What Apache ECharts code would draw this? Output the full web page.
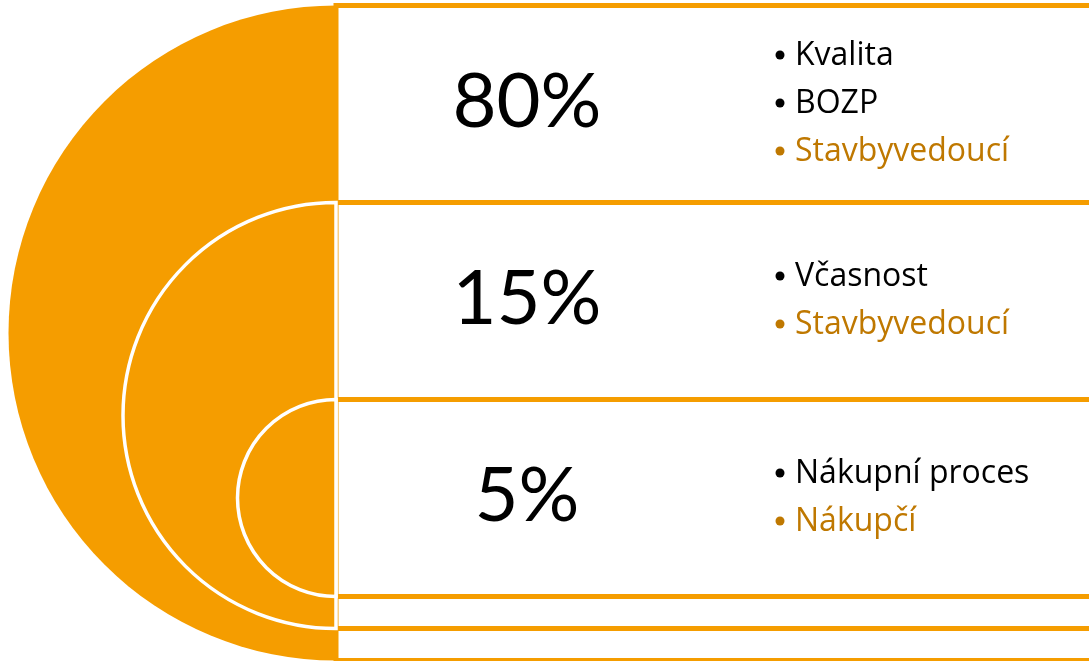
<!DOCTYPE html>
<html>
<head>
<meta charset="utf-8">
<script src="https://cdn.jsdelivr.net/npm/echarts@6/dist/echarts.min.js"></script>
<style>
html,body{margin:0;padding:0;background:#fff;}
#c{width:1089px;height:661px;}
</style>
</head>
<body>
<div id="c"></div>
<script>
// ---- data ----
const percents = ['80%', '15%', '5%'];
const criteria = [['Kvalita', 'BOZP'], ['Včasnost'], ['Nákupní proces']];
const owners = ['Stavbyvedoucí', 'Stavbyvedoucí', 'Nákupčí'];

// ---- layout / style constants ----
const ORANGE = '#F59D00';
const OWNER_COLOR = '#BF7800';
const PCT_FONT = 'Lato, "Open Sans", sans-serif';
const LIST_FONT = '"Open Sans", Lato, sans-serif';
const TOP = 5.5, MAIN_H = 197, TAIL_H = 32, SPLIT_X = 336, RIGHT_X = 1100;
const PCT_X = 527, BULLET_X = 780, TEXT_X = 795, LINE_H = 48;

const n = percents.length;
const rowHeights = [];
for (let i = 0; i < n; i++) rowHeights.push(MAIN_H);
for (let i = 0; i < n - 1; i++) rowHeights.push(TAIL_H);
const rowTops = [];
let acc = TOP;
rowHeights.forEach(h => { rowTops.push(acc); acc += h; });

const rowData = rowHeights.map((h, i) => [i]);
const arcData = percents.map((p, i) => [i]);

const chart = echarts.init(document.getElementById('c'), null, {renderer: 'canvas'});

function renderRow(params, api) {
  const i = api.value(0);
  const p0 = api.coord([SPLIT_X, rowTops[i]]);
  const p1 = api.coord([RIGHT_X, rowTops[i] + rowHeights[i]]);
  const children = [{
    type: 'rect',
    shape: {x: p0[0], y: p0[1], width: p1[0] - p0[0], height: p1[1] - p0[1]},
    style: {fill: '#fff', stroke: ORANGE, lineWidth: 5}
  }];
  if (i < n) {
    const cy = rowTops[i] + rowHeights[i] / 2;
    const pc = api.coord([PCT_X, cy - 2]);
    children.push({
      type: 'text',
      style: {x: pc[0], y: pc[1], text: percents[i], fill: '#000',
        font: '76px ' + PCT_FONT, align: 'center', verticalAlign: 'middle'}
    });
    const lines = criteria[i].map(t => ({t: t, c: '#000'}));
    lines.push({t: owners[i], c: OWNER_COLOR});
    const start = cy - (lines.length - 1) * LINE_H / 2 - 1;
    lines.forEach((ln, k) => {
      const ly = start + k * LINE_H;
      const b = api.coord([BULLET_X, ly]);
      const tp = api.coord([TEXT_X, ly + 1]);
      children.push({
        type: 'circle', shape: {cx: b[0], cy: b[1], r: 4.5}, style: {fill: ln.c}
      });
      children.push({
        type: 'text',
        style: {x: tp[0], y: tp[1], text: ln.t, fill: ln.c,
          font: '32px ' + LIST_FONT, align: 'left', verticalAlign: 'middle'}
      });
    });
  }
  return {type: 'group', children: children};
}

function renderArc(params, api) {
  const i = api.value(0);
  const top = rowTops[i];
  const last = 2 * n - 2 - i;
  const bottom = rowTops[last] + rowHeights[last];
  const c = api.coord([SPLIT_X, (top + bottom) / 2]);
  const t = api.coord([SPLIT_X, top]);
  const bt = api.coord([SPLIT_X, bottom]);
  const r = (bt[1] - t[1]) / 2;
  return {
    type: 'sector',
    shape: {cx: c[0], cy: c[1], r0: 0, r: r, startAngle: Math.PI / 2, endAngle: Math.PI * 1.5, clockwise: true},
    style: {fill: ORANGE, stroke: '#fff', lineWidth: i === 0 ? 0 : 3.5}
  };
}

chart.setOption({
  animation: false,
  grid: {left: 0, right: 0, top: 0, bottom: 0},
  xAxis: {type: 'value', min: 0, max: 1089, show: false},
  yAxis: {type: 'value', min: 0, max: 661, inverse: true, show: false},
  series: [
    {type: 'custom', renderItem: renderRow, data: rowData, coordinateSystem: 'cartesian2d', clip: false, z: 1},
    {type: 'custom', renderItem: renderArc, data: arcData, coordinateSystem: 'cartesian2d', clip: false, z: 2}
  ]
});
</script>
</body>
</html>
